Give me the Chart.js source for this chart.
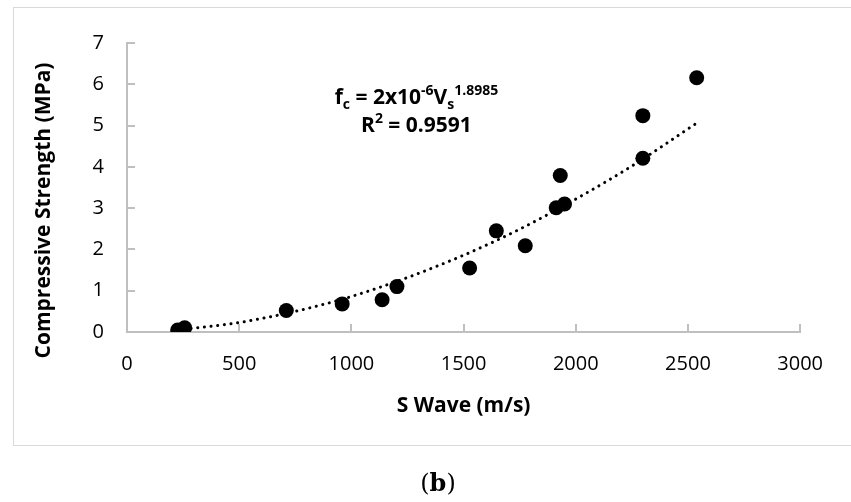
<!DOCTYPE html>
<html>
<head>
<meta charset="utf-8">
<script src="https://cdn.jsdelivr.net/npm/chart.js"></script>
<style>
  body { margin: 0; background: #fff; }
  #wrap { position: relative; width: 851px; height: 502px; }
  #frame {
    position: absolute; left: 13px; top: 7px; width: 860px; height: 437px;
    border: 1px solid #d9d9d9; pointer-events: none;
  }
  #caption {
    position: absolute; left: 0; top: 468px; width: 876px; text-align: center;
    font-family: "DejaVu Serif", "Liberation Serif", serif; font-size: 24px; color: #000;
  }
</style>
</head>
<body>
<div id="wrap">
  <canvas id="chart" width="851" height="502"></canvas>
  <div id="frame"></div>
  <div id="caption">(<b>b</b>)</div>
</div>
<script>
// measured points
const sWave = [226, 257, 710, 959, 1137, 1203, 1527, 1646, 1775, 1913, 1931, 1950, 2299, 2299, 2539];
const strength = [0.05, 0.10, 0.52, 0.68, 0.78, 1.10, 1.55, 2.45, 2.09, 3.01, 3.79, 3.10, 4.21, 5.24, 6.16];

// power trendline
const trendX = [226, 500, 750, 1000, 1250, 1500, 1750, 2000, 2250, 2539];
const trendY = [0.05, 0.23, 0.50, 0.86, 1.32, 1.86, 2.49, 3.22, 4.02, 5.06];

const xTicks = [0, 500, 1000, 1500, 2000, 2500, 3000];
const yTicks = [0, 1, 2, 3, 4, 5, 6, 7];

const yTitle = "Compressive Strength (MPa)";
const xTitle = "S Wave (m/s)";

const eqLine1 = [
  { t: "f", sub: 0 },
  { t: "c", sub: 1 },
  { t: " = 2x10", sub: 0 },
  { t: "-6", sub: -1 },
  { t: "V", sub: 0 },
  { t: "s", sub: 1 },
  { t: "1.8985", sub: -1 },
];
const eqLine2 = [
  { t: "R", sub: 0 },
  { t: "2", sub: -1 },
  { t: " = 0.9591", sub: 0 },
];

const FONT = '"Open Sans", "Liberation Sans", sans-serif';
const gray = "#bfbfbf";

const equationLabel = {
  id: "equationLabel",
  afterDatasetsDraw(chart) {
    const { ctx, scales, chartArea } = chart;
    const cx = scales.x.getPixelForValue(1290);
    const drawLine = (parts, baseY) => {
      const segFont = (p) => (p.sub === 0 ? `bold 21px ${FONT}` : `bold 14px ${FONT}`);
      let w = 0;
      parts.forEach((p) => {
        ctx.font = segFont(p);
        w += ctx.measureText(p.t).width;
      });
      let x = cx - w / 2;
      ctx.fillStyle = "#000";
      ctx.textBaseline = "alphabetic";
      ctx.textAlign = "left";
      parts.forEach((p) => {
        ctx.font = segFont(p);
        const dy = p.sub === 1 ? 5 : p.sub === -1 ? -9 : 0;
        ctx.fillText(p.t, x, baseY + dy);
        x += ctx.measureText(p.t).width;
      });
    };
    ctx.save();
    drawLine(eqLine1, scales.y.getPixelForValue(5.53));
    drawLine(eqLine2, scales.y.getPixelForValue(4.85));

    // y axis title, centred a little below the plot middle like the original
    ctx.translate(scales.y.left + 30, (chartArea.top + chartArea.bottom) / 2 + 23);
    ctx.rotate(-Math.PI / 2);
    ctx.font = `bold 21px ${FONT}`;
    ctx.textAlign = "center";
    ctx.textBaseline = "middle";
    ctx.fillText(yTitle, 0, 0);
    ctx.restore();
  },
};

new Chart(document.getElementById("chart").getContext("2d"), {
  type: "scatter",
  data: {
    datasets: [
      {
        label: "Data",
        data: sWave.map((x, i) => ({ x, y: strength[i] })),
        backgroundColor: "#000",
        borderWidth: 0,
        pointRadius: 7.5,
        order: 1,
      },
      {
        label: "Power trend",
        type: "line",
        data: trendX.map((x, i) => ({ x, y: trendY[i] })),
        borderColor: "#000",
        borderWidth: 3,
        borderDash: [0.1, 6.6],
        borderCapStyle: "round",
        cubicInterpolationMode: "monotone",
        pointRadius: 0,
        fill: false,
        order: 2,
      },
    ],
  },
  options: {
    responsive: false,
    animation: false,
    layout: { padding: { left: 14, top: 35, right: 48, bottom: 70 } },
    plugins: { legend: { display: false }, tooltip: { enabled: false } },
    scales: {
      x: {
        type: "linear",
        min: 0,
        max: 3000,
        afterBuildTicks: (s) => { s.ticks = xTicks.map((v) => ({ value: v })); },
        afterFit: (s) => { s.height = 100; },
        border: { color: gray, width: 2 },
        grid: { drawOnChartArea: false, color: gray, lineWidth: 2, tickLength: -8 },
        ticks: {
          color: "#000",
          padding: 28,
          font: { family: FONT, size: 20 },
          callback: (v) => String(v),
        },
        title: {
          display: true,
          text: xTitle,
          color: "#000",
          padding: { top: 0, bottom: 13 },
          font: { family: FONT, size: 21, weight: "bold" },
        },
      },
      y: {
        min: 0,
        max: 7,
        afterBuildTicks: (s) => { s.ticks = yTicks.map((v) => ({ value: v })); },
        afterFit: (s) => { s.width = 113; },
        border: { color: gray, width: 2 },
        grid: { drawOnChartArea: false, color: gray, lineWidth: 2, tickLength: -8 },
        ticks: {
          color: "#000",
          padding: 31,
          font: { family: FONT, size: 20 },
          callback: (v) => String(v),
        },
      },
    },
  },
  plugins: [equationLabel],
});
</script>
</body>
</html>
